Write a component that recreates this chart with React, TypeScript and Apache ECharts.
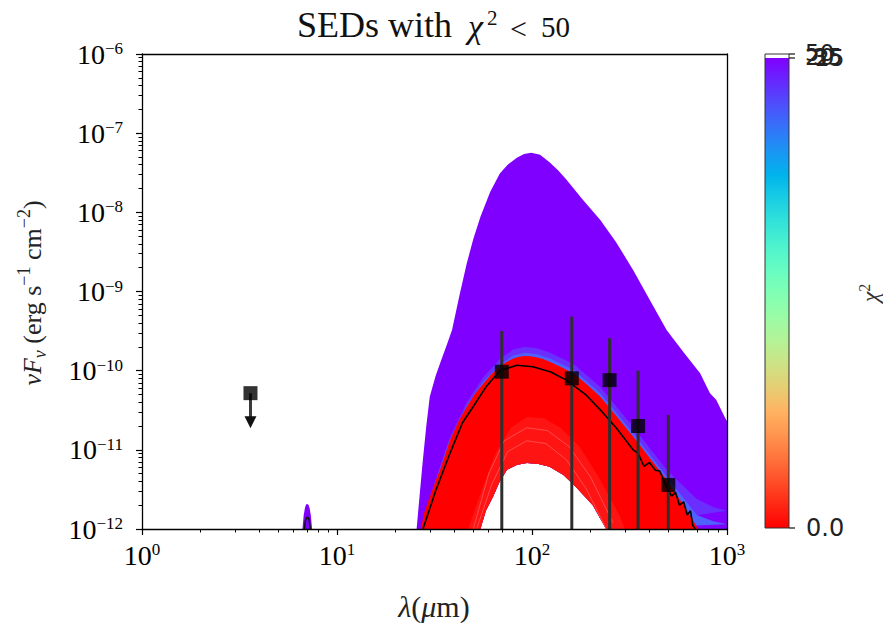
import React, { useEffect, useRef } from "react";
import * as echarts from "echarts";

// ---------- axes ----------
const xRange = [1, 1000];
const yRange = [1e-12, 1e-6];

// ---------- χ² < 50 model envelope (purple) ----------
const purpleUpperLam = [25.6, 26.5, 27.5, 28.7, 29.9, 32, 34, 36.5, 38.9, 42.5, 46.3, 50, 54.4, 61, 68.4, 75, 83.6, 91, 99.2, 110, 123, 136, 150, 180, 224, 270, 330, 400, 490, 600, 728, 818, 880, 973, 1000];
const purpleUpperVal = [1e-12, 2.6e-12, 7e-12, 2.0e-11, 4.7e-11, 8.5e-11, 1.3e-10, 2.1e-10, 3.27e-10, 9.0e-10, 2.27e-9, 4.6e-9, 8.8e-9, 1.8e-8, 3.1e-8, 4.0e-8, 4.9e-8, 5.45e-8, 5.67e-8, 5.35e-8, 4.3e-8, 3.4e-8, 2.6e-8, 1.5e-8, 8e-9, 4.2e-9, 1.87e-9, 8e-10, 3.27e-10, 1.7e-10, 9.3e-11, 5.2e-11, 4.3e-11, 2.6e-11, 2.3e-11];
const purpleHoleLam = [53, 58, 63.1, 68, 74.4, 84, 94.2, 108, 123, 145, 168, 205, 240, 1000];
const purpleHoleVal = [1e-12, 1.7e-12, 2.56e-12, 3.9e-12, 5.6e-12, 6.5e-12, 6.8e-12, 6.6e-12, 6.1e-12, 4.8e-12, 3.4e-12, 2e-12, 1e-12, 1e-12];

// 7 micron feature
const spikeLam = [6.65, 6.75, 6.85, 6.95, 7.05, 7.15, 7.25, 7.35, 7.45];
const spikeVal = [1e-12, 1.5e-12, 1.85e-12, 2.05e-12, 2.07e-12, 2.0e-12, 1.8e-12, 1.45e-12, 1e-12];
const spikeBaseLam = [6.65, 7.45];
const spikeBaseVal = [1e-12, 1e-12];

// bluish models just above the low-χ² ones
const glowLam = [30, 38, 46.3, 56.3, 68.4, 80, 92, 105, 123, 163, 224, 330, 490, 700, 850, 1000];
const glowOuterVal = [2.6e-12, 1.45e-11, 4.0e-11, 8.3e-11, 1.4e-10, 1.85e-10, 2.0e-10, 1.93e-10, 1.7e-10, 1.22e-10, 6.2e-11, 1.95e-11, 5.6e-12, 2.4e-12, 1.9e-12, 1.7e-12];
const glowInnerVal = [2.5e-12, 1.36e-11, 3.6e-11, 7.3e-11, 1.2e-10, 1.55e-10, 1.68e-10, 1.62e-10, 1.43e-10, 1.03e-10, 5.2e-11, 1.62e-11, 4.6e-12, 1.5e-12, 1.25e-12, 1.15e-12];

// ---------- low χ² models (red) ----------
const redUpperLam = [26.9, 28, 30, 32, 34, 38, 42, 46.3, 51, 56.3, 62, 68.4, 74, 80, 86, 92, 98, 105, 114, 123, 140, 163, 190, 224, 270, 330, 400, 490, 600, 712];
const redUpperVal = [1e-12, 1.6e-12, 2.6e-12, 4e-12, 5.9e-12, 1.33e-11, 2.3e-11, 3.5e-11, 5.1e-11, 6.9e-11, 9.1e-11, 1.12e-10, 1.29e-10, 1.42e-10, 1.5e-10, 1.53e-10, 1.52e-10, 1.48e-10, 1.4e-10, 1.3e-10, 1.12e-10, 9.3e-11, 6.8e-11, 4.7e-11, 2.7e-11, 1.47e-11, 8e-12, 4.2e-12, 2.0e-12, 1e-12];
const redLowerLam = [54.4, 58, 63.1, 68, 74.4, 84, 94.2, 108, 123, 145, 168, 205, 240];
const redLowerVal = [1e-12, 1.7e-12, 2.56e-12, 3.9e-12, 5.6e-12, 6.5e-12, 6.8e-12, 6.6e-12, 6.1e-12, 4.8e-12, 3.4e-12, 2e-12, 1e-12];
const redLightLam = [47, 55, 65, 78, 94, 115, 140, 175, 220, 280, 300];
const redLightVal = [1e-12, 3e-12, 9e-12, 1.9e-11, 2.6e-11, 2.5e-11, 1.9e-11, 1.1e-11, 4.5e-12, 1.5e-12, 1e-12];
const stripeALam = [52, 62, 75, 94, 118, 150, 190, 240];
const stripeAVal = [1e-12, 3.6e-12, 9.5e-12, 1.3e-11, 1.2e-11, 7.5e-12, 3.2e-12, 1e-12];
const stripeBLam = [50, 60, 72, 94, 120, 155, 200, 260];
const stripeBVal = [1e-12, 5e-12, 1.3e-11, 1.9e-11, 1.75e-11, 1.1e-11, 4.5e-12, 1.2e-12];

// ---------- best fit ----------
const bestFitBumpLam = [6.8, 6.9, 7.0, 7.1, 7.2, 7.3];
const bestFitBumpVal = [1e-12, 1.3e-12, 1.4e-12, 1.4e-12, 1.3e-12, 1e-12];
const bestFitLam = [27.6, 32, 38, 44, 49.9, 58, 68.4, 83.6, 101, 125, 150, 190, 224, 270, 330, 350, 375, 400, 430, 452, 490, 520, 545, 570, 600, 625, 650, 668, 690];
const bestFitVal = [1e-12, 3e-12, 9.1e-12, 2.2e-11, 3.5e-11, 6.2e-11, 1.0e-10, 1.17e-10, 1.12e-10, 9.6e-11, 7.6e-11, 4.9e-11, 3.2e-11, 1.9e-11, 1.0e-11, 9.0e-12, 6.2e-12, 6.9e-12, 5.5e-12, 5.4e-12, 3.4e-12, 2.6e-12, 2.9e-12, 2.0e-12, 2.2e-12, 1.5e-12, 1.7e-12, 1.1e-12, 1e-12];

// ---------- observations ----------
const obsLam = [70, 160, 250, 350, 500];
const obsVal = [9.7e-11, 8.0e-11, 7.6e-11, 2.0e-11, 3.6e-12];
const obsErr = [2.2e-10, 4.0e-10, 1.8e-10, 8.0e-11, 2.4e-11];
const upperLimitLam = [3.6];
const upperLimitVal = [5.2e-11];

// ---------- colorbar ----------
const colorbarBottomLabel = "0.0";
const colorbarTopLabels = ["50", "20", "35", "25"];

const SERIF = "'Liberation Serif', 'DejaVu Serif', serif";
const SANS = "'DejaVu Sans', sans-serif";

function rainbow(x: number): string {
  const c = (v: number) => Math.round(Math.max(0, Math.min(1, v)) * 255);
  const r = Math.abs(2 * x - 0.5);
  const g = Math.sin(Math.PI * x);
  const b = Math.cos((Math.PI * x) / 2);
  return `rgb(${c(r)},${c(g)},${c(b)})`;
}

function minorTicks(fromExp: number, toExp: number): number[] {
  const out: number[] = [];
  for (let d = fromExp; d < toExp; d++) for (let k = 2; k <= 9; k++) out.push(k * Math.pow(10, d));
  return out;
}

function bandSeries(topLam: number[], topVal: number[], botLam: number[], botVal: number[], color: string, z: number) {
  return {
    type: "custom",
    xAxisIndex: 0,
    yAxisIndex: 0,
    z,
    silent: true,
    clip: true,
    data: [[topLam[0], topVal[0]]],
    renderItem: (_p: any, api: any) => {
      const pts: number[][] = [];
      topLam.forEach((l, i) => pts.push(api.coord([l, topVal[i]])));
      for (let i = botLam.length - 1; i >= 0; i--) pts.push(api.coord([botLam[i], botVal[i]]));
      return { type: "polygon", shape: { points: pts }, style: { fill: color } };
    },
  };
}

function lineSeries(lam: number[], val: number[], color: string, width: number, z: number, opacity = 1) {
  return {
    type: "line",
    xAxisIndex: 0,
    yAxisIndex: 0,
    z,
    silent: true,
    symbol: "none",
    showSymbol: false,
    data: lam.map((l, i) => [l, val[i]]),
    lineStyle: { color, width, opacity },
  };
}

export default function App() {
  const ref = useRef<HTMLDivElement>(null);

  useEffect(() => {
    if (!ref.current) return;
    const chart = echarts.init(ref.current, null, { renderer: "svg" });

    const supFmt = (v: number) => `{b|10}{e|${Math.round(Math.log10(v)).toString().replace("-", "\u2212")}}`;
    const labelRich = {
      b: { fontSize: 28, fontFamily: SERIF, color: "#000", lineHeight: 28 },
      e: { fontSize: 17, fontFamily: SERIF, color: "#000", verticalAlign: "top" },
    };
    const lineStyle = { color: "#000", width: 1.3 };

    const baseX = { type: "log", logBase: 10, min: xRange[0], max: xRange[1], gridIndex: 0, z: 10, splitLine: { show: false }, minorTick: { show: false }, minorSplitLine: { show: false } };
    const baseY = { type: "log", logBase: 10, min: yRange[0], max: yRange[1], gridIndex: 0, z: 10, splitLine: { show: false }, minorTick: { show: false }, minorSplitLine: { show: false } };

    const cbX = 765, cbW = 24, cbTop = 54, cbBottom = 528, cbGradTop = 58;
    const stops = [];
    for (let i = 0; i <= 20; i++) stops.push({ offset: i / 20, color: rainbow(i / 20) });

    const option: any = {
      animation: false,
      backgroundColor: "#fff",
      grid: { left: 142, top: 54, width: 585, height: 475, show: false, outerBoundsMode: "none", containLabel: false },
      xAxis: [
        {
          ...baseX,
          position: "bottom",
          axisLine: { show: true, lineStyle },
          axisTick: { show: true, inside: false, length: 6, lineStyle: { color: "#000", width: 1.2 } },
          axisLabel: { show: true, margin: 12, formatter: supFmt, rich: labelRich },
        },
        {
          ...baseX,
          position: "bottom",
          axisLine: { show: false },
          axisTick: { show: true, inside: false, length: 3.5, customValues: minorTicks(0, 3), lineStyle: { color: "#000", width: 1 } },
          axisLabel: { show: false },
        },
        {
          ...baseX,
          position: "top",
          axisLine: { show: true, lineStyle },
          axisTick: { show: false },
          axisLabel: { show: false },
        },
      ],
      yAxis: [
        {
          ...baseY,
          position: "left",
          axisLine: { show: true, lineStyle },
          axisTick: { show: true, inside: false, length: 6, lineStyle: { color: "#000", width: 1.2 } },
          axisLabel: { show: true, margin: 19, formatter: supFmt, rich: labelRich },
        },
        {
          ...baseY,
          position: "left",
          axisLine: { show: false },
          axisTick: { show: true, inside: false, length: 3.5, customValues: minorTicks(-12, -6), lineStyle: { color: "#000", width: 1 } },
          axisLabel: { show: false },
        },
        {
          ...baseY,
          position: "right",
          axisLine: { show: true, lineStyle },
          axisTick: { show: false },
          axisLabel: { show: false },
        },
      ],
      series: [
        bandSeries(purpleUpperLam, purpleUpperVal, purpleHoleLam, purpleHoleVal, "#7f00ff", 1),
        bandSeries(spikeLam, spikeVal, spikeBaseLam, spikeBaseVal, "#7f00ff", 1),
        bandSeries(glowLam, glowOuterVal, redLowerLam, redLowerVal, "#6a2eff", 2),
        bandSeries(glowLam, glowInnerVal, redLowerLam, redLowerVal, "#4f62ff", 2),
        bandSeries(redUpperLam, redUpperVal, redLowerLam, redLowerVal, "#ff0000", 3),
        bandSeries(redLightLam, redLightVal, redLowerLam, redLowerVal, "#ff1414", 3),
        lineSeries(stripeALam, stripeAVal, "#ff8c8c", 1, 3, 0.45),
        lineSeries(stripeBLam, stripeBVal, "#ff8c8c", 1, 3, 0.45),
        lineSeries(bestFitBumpLam, bestFitBumpVal, "#111", 1.6, 4),
        lineSeries(bestFitLam, bestFitVal, "#000", 1.6, 4),
        {
          type: "custom",
          xAxisIndex: 0,
          yAxisIndex: 0,
          z: 5,
          silent: true,
          clip: true,
          dimensions: ["lam", "val", "err"],
          encode: { x: 0, y: 1 },
          data: obsLam.map((l, i) => [l, obsVal[i], obsErr[i]]),
          renderItem: (_p: any, api: any) => {
            const l = api.value(0), v = api.value(1), e = api.value(2);
            const top = api.coord([l, v + e]);
            const bot = api.coord([l, Math.max(v - e, yRange[0])]);
            return { type: "line", shape: { x1: top[0], y1: top[1], x2: bot[0], y2: bot[1] }, style: { stroke: "#2e2e2e", lineWidth: 3 } };
          },
        },
        {
          type: "custom",
          xAxisIndex: 0,
          yAxisIndex: 0,
          z: 5,
          silent: true,
          data: upperLimitLam.map((l, i) => [l, upperLimitVal[i]]),
          renderItem: (_p: any, api: any) => {
            const p = api.coord([api.value(0), api.value(1)]);
            return {
              type: "group",
              children: [
                { type: "line", shape: { x1: p[0], y1: p[1], x2: p[0], y2: p[1] + 25 }, style: { stroke: "#3a3a3a", lineWidth: 3 } },
                { type: "polygon", shape: { points: [[p[0] - 6, p[1] + 23], [p[0] + 6, p[1] + 23], [p[0], p[1] + 35]] }, style: { fill: "#111" } },
              ],
            };
          },
        },
        {
          type: "scatter",
          xAxisIndex: 0,
          yAxisIndex: 0,
          z: 6,
          silent: true,
          symbol: "rect",
          symbolSize: 14,
          itemStyle: { color: "#000" },
          data: [...obsLam.map((l, i) => [l, obsVal[i]]), ...upperLimitLam.map((l, i) => [l, upperLimitVal[i]])],
        },
      ],
      graphic: [
        // title
        { type: "text", x: 297, y: 25, style: { text: "SEDs with", fontSize: 36, fontFamily: SERIF, fill: "#111", align: "left", verticalAlign: "middle" } },
        { type: "text", x: 468, y: 26, style: { text: "χ", fontSize: 34, fontStyle: "italic", fontFamily: SERIF, fill: "#111", align: "left", verticalAlign: "middle" } },
        { type: "text", x: 487, y: 18, style: { text: "2", fontSize: 21, fontFamily: SERIF, fill: "#111", align: "left", verticalAlign: "middle" } },
        { type: "text", x: 510, y: 28, style: { text: "<", fontSize: 30, fontFamily: SERIF, fill: "#111", align: "left", verticalAlign: "middle" } },
        { type: "text", x: 541, y: 27, style: { text: "50", fontSize: 29, fontFamily: SERIF, fill: "#111", align: "left", verticalAlign: "middle" } },
        // x label
        {
          type: "text",
          x: 434,
          y: 606,
          style: {
            text: "{i|λ}{r|(}{i|μ}{r|m)}",
            align: "center",
            verticalAlign: "middle",
            rich: {
              i: { fontSize: 30, fontStyle: "italic", fontFamily: SERIF, fill: "#222" },
              r: { fontSize: 30, fontFamily: SERIF, fill: "#222" },
            },
          },
        },
        // y label
        {
          type: "text",
          x: 32,
          y: 293,
          rotation: Math.PI / 2,
          style: {
            text: "{i|νF}{sub|ν}{r| (erg s}{sup|−1}{r| cm}{sup|−2}{r|)}",
            align: "center",
            verticalAlign: "middle",
            rich: {
              i: { fontSize: 26, fontStyle: "italic", fontFamily: SERIF, fill: "#222", lineHeight: 34 },
              r: { fontSize: 26, fontFamily: SERIF, fill: "#222", lineHeight: 34 },
              sub: { fontSize: 18, fontStyle: "italic", fontFamily: SERIF, fill: "#222", verticalAlign: "bottom" },
              sup: { fontSize: 18, fontFamily: SERIF, fill: "#222", verticalAlign: "top" },
            },
          },
        },
        // colorbar
        { type: "rect", shape: { x: cbX, y: cbTop, width: cbW, height: cbBottom - cbTop }, style: { fill: "#fff", stroke: "none" } },
        {
          type: "rect",
          shape: { x: cbX, y: cbGradTop, width: cbW, height: cbBottom - cbGradTop },
          style: { fill: new echarts.graphic.LinearGradient(0, 0, 0, 1, stops), stroke: "none" },
        },
        { type: "rect", shape: { x: cbX, y: cbTop, width: cbW, height: cbBottom - cbTop }, style: { fill: "none", stroke: "#333", lineWidth: 1 } },
        { type: "line", shape: { x1: cbX + cbW, y1: cbTop, x2: cbX + cbW + 6, y2: cbTop }, style: { stroke: "#111", lineWidth: 1.2 } },
        { type: "line", shape: { x1: cbX + cbW, y1: cbGradTop, x2: cbX + cbW + 6, y2: cbGradTop }, style: { stroke: "#111", lineWidth: 1.2 } },
        { type: "line", shape: { x1: cbX + cbW, y1: cbBottom, x2: cbX + cbW + 6, y2: cbBottom }, style: { stroke: "#111", lineWidth: 1.2 } },
        { type: "text", x: 806, y: cbBottom, style: { text: colorbarBottomLabel, fontSize: 24, fontFamily: SANS, fill: "#222", align: "left", verticalAlign: "middle" } },
        { type: "text", x: 805, y: 53, style: { text: colorbarTopLabels[0], fontSize: 23, fontFamily: SANS, fill: "#222", align: "left", verticalAlign: "middle" } },
        { type: "text", x: 805, y: 57, style: { text: colorbarTopLabels[1], fontSize: 23, fontFamily: SANS, fill: "#222", align: "left", verticalAlign: "middle" } },
        { type: "text", x: 813, y: 57, style: { text: colorbarTopLabels[2], fontSize: 23, fontFamily: SANS, fill: "#222", align: "left", verticalAlign: "middle" } },
        { type: "text", x: 815, y: 58, style: { text: colorbarTopLabels[3], fontSize: 23, fontFamily: SANS, fill: "#222", align: "left", verticalAlign: "middle" } },
        {
          type: "text",
          x: 870,
          y: 293,
          rotation: Math.PI / 2,
          style: {
            text: "{i|χ}{sup|2}",
            align: "center",
            verticalAlign: "middle",
            rich: {
              i: { fontSize: 24, fontStyle: "italic", fontFamily: SERIF, fill: "#333", lineHeight: 28 },
              sup: { fontSize: 16, fontFamily: SERIF, fill: "#333", verticalAlign: "top" },
            },
          },
        },
      ],
    };

    chart.setOption(option);
    return () => chart.dispose();
  }, []);

  return (
    <div
      ref={ref}
      style={{ position: "fixed", left: 0, top: 0, width: 883, height: 623, background: "#fff" }}
    />
  );
}
